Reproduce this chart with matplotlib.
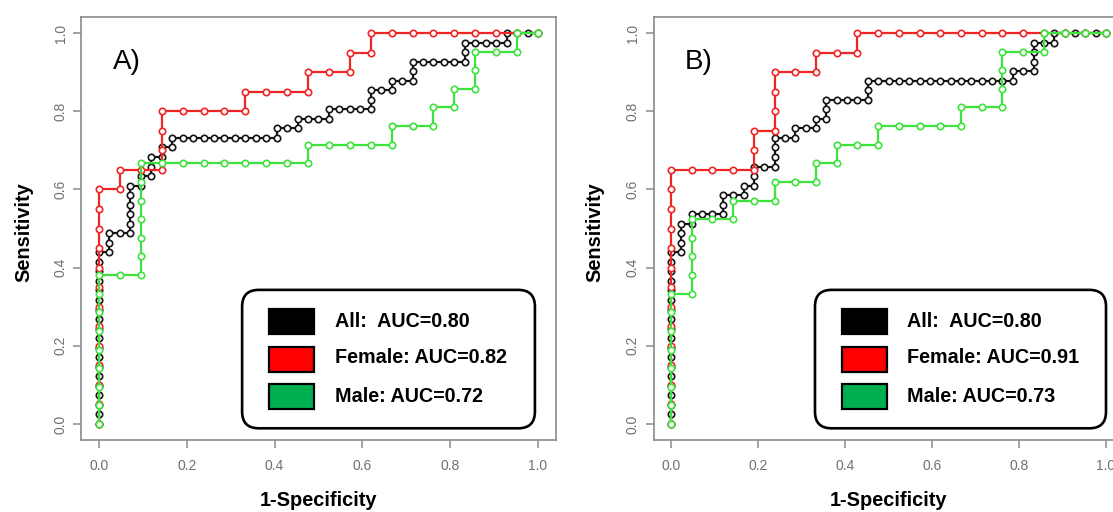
"""ROC curves by sex, two panels (A and B)."""

import matplotlib

matplotlib.use("Agg")
import matplotlib.pyplot as plt
import numpy as np
from matplotlib.patches import FancyBboxPatch, Rectangle

plt.rcParams["font.family"] = ["Liberation Sans", "DejaVu Sans"]

W, H = 1113, 512

# case counts of each group
N_POS_ALL, N_NEG_ALL = 41, 42
N_POS_F, N_NEG_F = 20, 21
N_POS_M, N_NEG_M = 21, 21

# ROC runs: alternating numbers of positives (up)
# and negatives (right) passed while lowering the threshold
a_all_runs = [18, 1, 2, 2, 5, 1, 1, 1, 2, 1, 1, 1, 1, 10, 1, 2, 1, 3, 1, 4, 2, 2, 1, 2, 2, 5, 2, 4, 1, 3]
a_female_runs = [12, 1, 1, 2, 3, 4, 1, 3, 1, 2, 1, 1, 1, 8]
a_male_runs = [8, 2, 6, 8, 1, 4, 1, 2, 1, 1, 1, 1, 2, 2, 1, 1]

b_all_runs = [18, 1, 3, 1, 1, 3, 2, 2, 1, 1, 2, 2, 3, 2, 1, 2, 1, 1, 2, 4, 2, 14, 1, 2, 3, 2, 1, 5]
b_female_runs = [13, 4, 2, 1, 3, 2, 1, 2, 1, 12]
b_male_runs = [7, 1, 4, 2, 1, 2, 1, 2, 1, 1, 1, 2, 1, 4, 1, 2, 3, 2, 1, 3]

a_auc = ["All:  AUC=0.80", "Female: AUC=0.82", "Male: AUC=0.72"]
b_auc = ["All:  AUC=0.80", "Female: AUC=0.91", "Male: AUC=0.73"]

ticks = [0.0, 0.2, 0.4, 0.6, 0.8, 1.0]
tick_labels = ["0.0", "0.2", "0.4", "0.6", "0.8", "1.0"]

LINE_COLORS = ["#151515", "#f02525", "#3ee23e"]
BOX_COLORS = ["#000000", "#ff0000", "#00b050"]


def roc_points(runs, n_pos, n_neg):
    tp, fp = [0], [0]
    for i, k in enumerate(runs):
        for _ in range(k):
            if i % 2 == 0:
                tp.append(tp[-1] + 1)
                fp.append(fp[-1])
            else:
                fp.append(fp[-1] + 1)
                tp.append(tp[-1])
    return np.array(fp) / n_neg, np.array(tp) / n_pos


def px_axes(fig, left, top, right, bottom):
    return fig.add_axes([left / W, 1 - bottom / H, (right - left) / W, (bottom - top) / H])


def draw_panel(ax, curves, label, auc_texts, box_x, sq_x, txt_x, aspect):
    for (runs, npos, nneg), col in zip(curves, LINE_COLORS):
        fpr, tpr = roc_points(runs, npos, nneg)
        ax.plot(fpr, tpr, "-o", color=col, lw=1.6, ms=4.6, mfc="white",
                mec=col, mew=1.2, zorder=3)

    ax.set_xlim(-0.04, 1.04)
    ax.set_ylim(-0.04, 1.04)
    ax.set_xticks(ticks)
    ax.set_xticklabels(tick_labels)
    ax.set_yticks(ticks)
    ax.set_yticklabels(tick_labels, rotation=90, va="center")
    for s in ax.spines.values():
        s.set_color("#8a8a8a")
        s.set_linewidth(1.2)
    ax.tick_params(axis="both", direction="out", length=6, width=1.1,
                   color="#8a8a8a", labelcolor="#707070", labelsize=10)
    ax.tick_params(axis="x", pad=8)
    ax.tick_params(axis="y", pad=4)

    ax.text(0.032, 0.926, label, fontsize=20, va="center", ha="left")

    box = FancyBboxPatch((box_x[0], -0.011), box_x[1] - box_x[0], 0.354,
                         boxstyle="round,pad=0,rounding_size=0.038",
                         mutation_aspect=aspect, fc="white", ec="black",
                         lw=1.9, zorder=5, clip_on=False)
    ax.add_patch(box)
    for txt, col, yc, yb in zip(auc_texts, BOX_COLORS, [0.261, 0.164, 0.070], [0.249, 0.155, 0.057]):
        ax.add_patch(Rectangle((sq_x[0], yc - 0.032), sq_x[1] - sq_x[0], 0.064,
                               fc=col, ec="black", lw=1.6, zorder=6))
        ax.text(txt_x, yb, txt, fontsize=14.2, fontweight="bold", va="baseline",
                ha="left", zorder=7)


fig = plt.figure(figsize=(W / 100, H / 100), dpi=100)

# panel A: x 0 -> px 99, 1 -> px 538 ; y 0 -> py 424, 1 -> py 33
ax_a = px_axes(fig, 99 - 0.04 * 439, 33 - 0.04 * 391, 538 + 0.04 * 439, 424 + 0.04 * 391)
draw_panel(ax_a,
           [(a_all_runs, N_POS_ALL, N_NEG_ALL), (a_female_runs, N_POS_F, N_NEG_F),
            (a_male_runs, N_POS_M, N_NEG_M)],
           "A)", a_auc, (0.326, 0.993), (0.387, 0.490), 0.5376, 439 / 391)

# panel B: x 0 -> px 671, 1 -> px 1106 (cut at the right edge)
ax_b = px_axes(fig, 671 - 0.04 * 435, 33 - 0.04 * 391, 1106 + 0.04 * 435, 424 + 0.04 * 391)
draw_panel(ax_b,
           [(b_all_runs, N_POS_ALL, N_NEG_ALL), (b_female_runs, N_POS_F, N_NEG_F),
            (b_male_runs, N_POS_M, N_NEG_M)],
           "B)", b_auc, (0.331, 1.0), (0.392, 0.497), 0.542, 435 / 391)

for cx, sx in [(318.5, 23.5), (888.5, 595)]:
    fig.text(cx / W, 1 - 501 / H, "1-Specificity", fontsize=14.4, fontweight="bold",
             ha="center", va="center")
    fig.text(sx / W, 1 - 232 / H, "Sensitivity", fontsize=14.4, fontweight="bold",
             ha="center", va="center", rotation=90)

fig.savefig("out.png", dpi=100)
